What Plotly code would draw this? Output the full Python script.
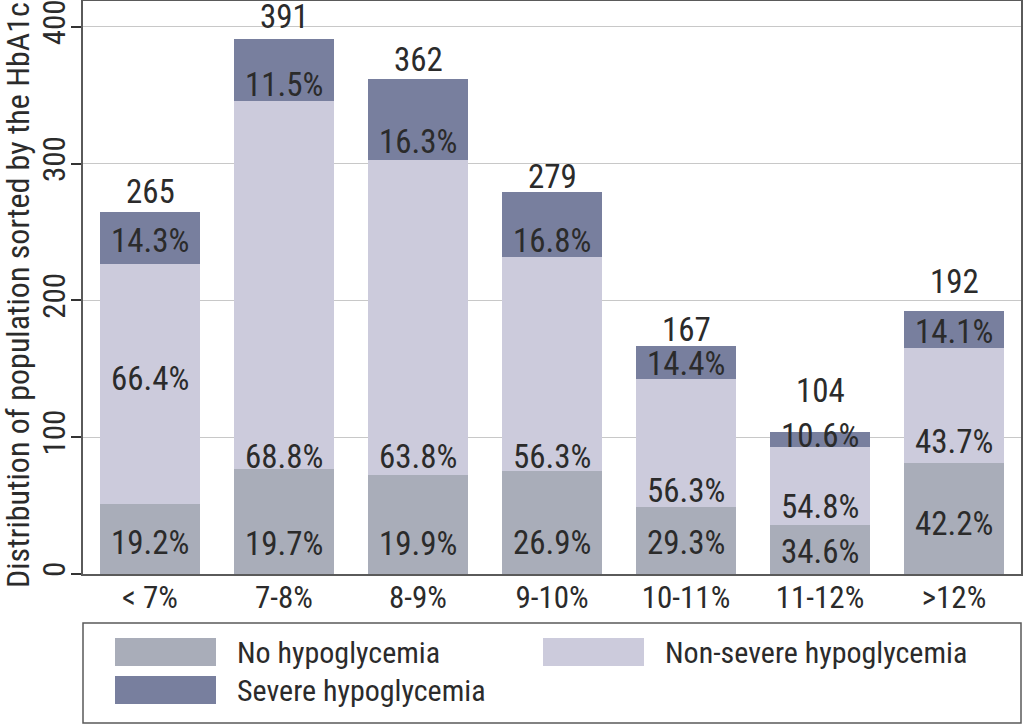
import plotly.graph_objects as go

# ---------------- data ----------------
categories = ["< 7%", "7-8%", "8-9%", "9-10%", "10-11%", "11-12%", ">12%"]
totals = [265, 391, 362, 279, 167, 104, 192]
pct_none = [19.2, 19.7, 19.9, 26.9, 29.3, 34.6, 42.2]
pct_nonsevere = [66.4, 68.8, 63.8, 56.3, 56.3, 54.8, 43.7]
pct_severe = [14.3, 11.5, 16.3, 16.8, 14.4, 10.6, 14.1]
series_names = ["No hypoglycemia", "Non-severe hypoglycemia", "Severe hypoglycemia"]
y_ticks = [0, 100, 200, 300, 400]
y_title = "Distribution of population sorted by the HbA1c"

# ---------------- style ----------------
FONT = "Noto Sans Condensed, Roboto Condensed, Roboto, sans-serif"
TXT = "#2b2b2b"
colors = ["#a9adb9", "#cccbdc", "#787f9e"]
W, H = 1024, 725
ML, MR, MT, MB = 83, 3, 1, 151

# label placement (text centers, in axis units, as placed in the original figure)
none_label_y = [22.7, 22.4, 22.4, 22.7, 22.7, 16.3, 36.6]
nonsev_label_y = [143.3, 85.8, 85.8, 85.8, 61.4, 49.0, 96.8]
sev_label_y = [244, 358, 316, 244, 154, 101.6, 177]
total_label_y = [279.6, 408, 376, 291, 179, 134, 214]

h_none = [t * p / 100 for t, p in zip(totals, pct_none)]
h_nonsev = [t * p / 100 for t, p in zip(totals, pct_nonsevere)]
h_sev = [t * p / 100 for t, p in zip(totals, pct_severe)]

fig = go.Figure()
for name, vals, col in zip(series_names, [h_none, h_nonsev, h_sev], colors):
    fig.add_trace(go.Bar(
        x=categories, y=vals, name=name,
        marker=dict(color=col, line=dict(width=0)),
        showlegend=False, hoverinfo="skip",
    ))

annotations = []
LBL = 33
for i, c in enumerate(categories):
    for pcts, ys in ((pct_none, none_label_y), (pct_nonsevere, nonsev_label_y), (pct_severe, sev_label_y)):
        annotations.append(dict(
            x=c, y=ys[i], xref="x", yref="y", text=f"{pcts[i]:.1f}%",
            showarrow=False, yanchor="middle", xanchor="center", yshift=0,
            font=dict(family=FONT, size=LBL, color=TXT),
        ))
    annotations.append(dict(
        x=c, y=total_label_y[i], xref="x", yref="y", text=str(totals[i]),
        showarrow=False, yanchor="middle", xanchor="center", yshift=0,
        font=dict(family=FONT, size=LBL, color=TXT),
    ))

# ---------------- manual legend & axis title ----------------
pw = W - ML - MR
ph = H - MT - MB


def px(xp):
    return (xp - ML) / pw


def py(yp):
    return (H - MB - yp) / ph


annotations.append(dict(
    x=px(18), y=py(295), xref="paper", yref="paper", text=y_title, textangle=-90,
    showarrow=False, xanchor="center", yanchor="middle",
    font=dict(family=FONT, size=32, color=TXT),
))

shapes = [dict(type="rect", xref="paper", yref="paper",
               x0=px(83), x1=px(1021), y0=py(623), y1=py(723),
               line=dict(color="#5a5a5a", width=1.5), fillcolor="white", layer="above")]
legend_items = [  # (series index, swatch x0, row y top, text x)
    (0, 115, 638, 235),
    (1, 543, 638, 663),
    (2, 115, 676, 235),
]
for idx, x0, y0, tx in legend_items:
    shapes.append(dict(type="rect", xref="paper", yref="paper",
                       x0=px(x0), x1=px(x0 + 101), y0=py(y0), y1=py(y0 + 28),
                       line=dict(width=0), fillcolor=colors[idx], layer="above"))
    annotations.append(dict(
        x=px(tx), y=py(y0 + 14), xref="paper", yref="paper", text=series_names[idx],
        showarrow=False, xanchor="left", yanchor="middle",
        font=dict(family=FONT, size=30, color=TXT),
    ))

fig.update_layout(
    template="none",
    width=W, height=H,
    margin=dict(l=ML, r=MR, t=MT, b=MB, pad=0),
    paper_bgcolor="white", plot_bgcolor="white",
    barmode="stack", bargap=0.25,
    font=dict(family=FONT, color=TXT),
    annotations=annotations, shapes=shapes,
    showlegend=False,
)
fig.update_xaxes(
    automargin=False,
    range=[-0.5, 6.5], showgrid=False, ticks="", ticklen=0, showline=True, mirror=True,
    linecolor="#5a5a5a", linewidth=1.5, ticklabelstandoff=-5,
    tickfont=dict(family=FONT, size=31, color=TXT),
)
fig.update_yaxes(
    automargin=False, ticklabeloverflow="allow",
    range=[0, 419], tickvals=y_ticks, showgrid=True, gridcolor="#c8c8c8", gridwidth=1,
    zeroline=False, showline=True, mirror=True, linecolor="#5a5a5a", linewidth=1.5,
    ticks="outside", ticklen=10, tickwidth=1.5, tickcolor="#333333", tickangle=-90,
    ticklabelstandoff=-6,
    tickfont=dict(family=FONT, size=31, color=TXT),
)

fig.write_html("out.html", config={"displayModeBar": False},
               post_script="document.body.style.margin='0px';")
